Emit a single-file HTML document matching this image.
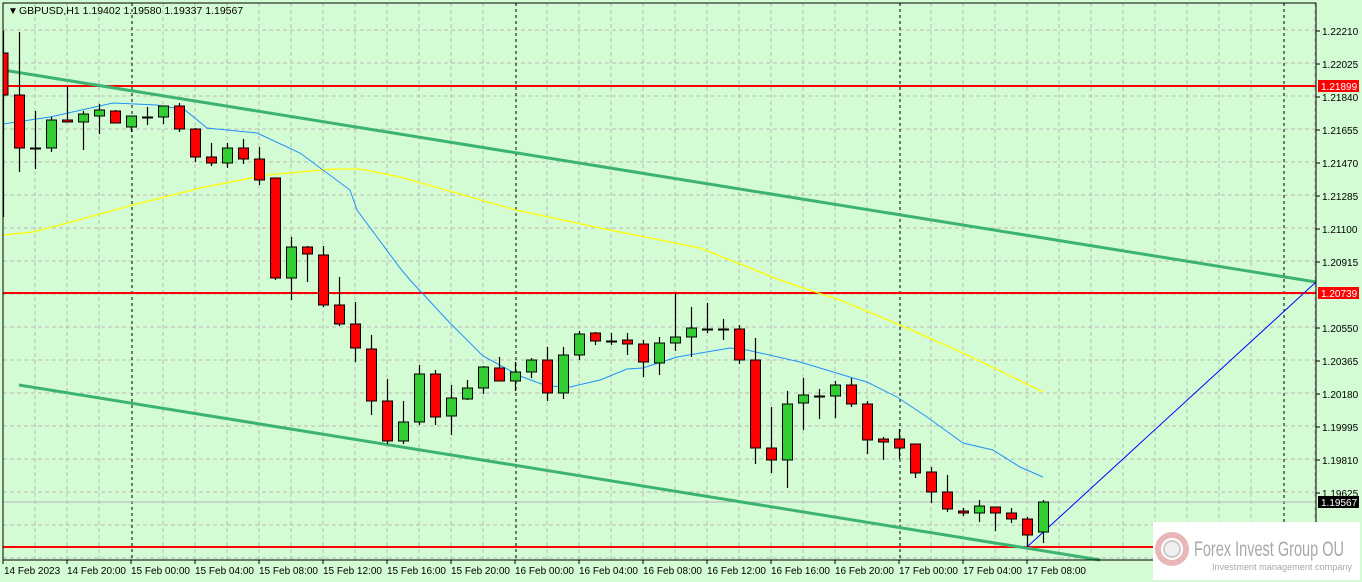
<!DOCTYPE html>
<html><head><meta charset="utf-8"><style>
html,body{margin:0;padding:0;background:#d4fcd4;}
svg{display:block;font-family:"Liberation Sans",sans-serif;}
</style></head><body>
<svg id="c" width="1362" height="582" xmlns="http://www.w3.org/2000/svg">
<rect x="0" y="0" width="1362" height="582" fill="#d4fcd4"/>
<g id="grid"></g>
<g id="lines"></g>
<g id="cand"></g>
<g id="top"></g>
<rect x="3" y="3" width="1313" height="557" fill="none" stroke="#000" stroke-width="1"/>
<text x="8" y="14" font-size="10" fill="#000">▼</text>
<text x="19" y="14" font-size="10.5" fill="#000">GBPUSD,H1  1.19402 1.19580 1.19337 1.19567</text>
<g id="axis"></g>
<g>
<rect x="1153" y="522" width="207" height="58" fill="#fff"/>
<circle cx="1172" cy="549" r="14" fill="none" stroke="#e8b8b8" stroke-width="6"/>
<circle cx="1172" cy="549" r="8" fill="#f0f0f0" stroke="#ccc" stroke-width="2"/>
<text x="1194" y="556" font-size="21" fill="#a8a8a8" textLength="150" lengthAdjust="spacingAndGlyphs">Forex Invest Group OU</text>
<text x="1212" y="570" font-size="9" fill="#a8a8a8" textLength="140" lengthAdjust="spacingAndGlyphs">Investment management company</text>
</g>
</svg>
<script>
const NS="http://www.w3.org/2000/svg";
function el(p,t,a,txt){const e=document.createElementNS(NS,t);for(const k in a)e.setAttribute(k,a[k]);if(txt!==undefined)e.textContent=txt;document.getElementById(p).appendChild(e);return e;}
// grid
for(let x=35;x<1316;x+=32){ if([131,515,899,1283].includes(x))continue; el("grid","line",{x1:x,y1:3,x2:x,y2:560,stroke:"#b8b8b8","stroke-dasharray":"4,3"});}
for(let y=30;y<560;y+=33){el("grid","line",{x1:3,y1:y,x2:1316,y2:y,stroke:"#b8b8b8","stroke-dasharray":"4,3"});}
[132,516,900,1284].forEach(x=>el("grid","line",{x1:x,y1:3,x2:x,y2:560,stroke:"#000","stroke-dasharray":"3,3"}));
// horizontal levels
el("lines","line",{x1:3,y1:502,x2:1316,y2:502,stroke:"#b8b8b8"});
[86,293,547].forEach(y=>el("lines","line",{x1:3,y1:y,x2:1316,y2:y,stroke:"#f00","stroke-width":2}));
// trend lines
el("lines","line",{x1:3,y1:70,x2:1316,y2:282,stroke:"#3cb371","stroke-width":3});
el("lines","line",{x1:19,y1:385,x2:1100,y2:560,stroke:"#3cb371","stroke-width":3});
el("lines","line",{x1:1027,y1:547,x2:1316,y2:282,stroke:"#0000ff","stroke-width":1});
// MAs
el("lines","polyline",{fill:"none",stroke:"#ffff00","stroke-width":1.3,points:"3,235 33,232 67,223 133,205 200,188 267,175 300,172 333,169 360,169 400,177 516,210 600,228 700,248 780,280 800,287 840,300 900,325 963,353 1043,392"});
el("lines","polyline",{fill:"none",stroke:"#1e90ff","stroke-width":1,points:"3,124 50,117 113,103 157,105 185,110 207,128 257,133 300,153 350,190 357,210 400,268 410,280 450,323 483,356 520,376 547,386 570,387 600,380 627,369 643,368 677,357 730,348 747,350 800,362 853,378 867,382 897,397 927,417 963,443 993,450 1020,467 1043,477"});
// candles: [top, bottom, high, low, type] r=red g=green d=doji
const C=[[53,95,31,217,'r'],[95,148,32,172,'r'],[148,148,111,169,'d'],[120,148,117,152,'g'],[120,122,86,122,'r'],[114,122,111,150,'g'],[110,116,104,134,'g'],[111,123,110,123,'r'],[116,127,116,132,'g'],[117,117,107,125,'d'],[106,117,106,124,'g'],[106,129,103,132,'r'],[129,157,128,162,'r'],[157,163,143,166,'r'],[148,163,143,168,'g'],[148,159,139,164,'r'],[159,180,147,185,'r'],
[178,278,178,280,'r'],[247,278,237,300,'g'],[247,254,246,282,'r'],[255,305,246,307,'r'],[305,324,277,326,'r'],[324,348,302,362,'r'],[349,401,335,415,'r'],[401,441,379,444,'r'],[422,441,401,444,'g'],[374,422,365,425,'g'],[374,417,370,425,'r'],[398,416,385,435,'g'],[388,399,380,400,'g'],[367,388,366,394,'g'],[368,381,357,381,'r'],[372,381,362,391,'g'],[360,372,358,378,'g'],[360,393,347,401,'r'],[355,393,347,399,'g'],[334,355,331,360,'g'],[333,341,332,345,'r'],[341,341,333,345,'d'],[340,344,333,355,'r'],[344,362,340,377,'r'],[343,363,337,375,'g'],[337,343,293,351,'g'],[328,337,307,357,'g'],[329,329,303,333,'d'],[329,329,319,340,'d'],[329,360,325,364,'r'],
[360,448,338,464,'r'],[448,460,407,473,'r'],[404,460,391,488,'g'],[395,403,378,430,'g'],[396,396,389,419,'d'],[385,396,381,418,'g'],[385,404,378,407,'r'],[404,440,401,454,'r'],[439,442,437,460,'r'],[439,448,429,459,'r'],[444,473,444,478,'r'],[472,492,467,503,'r'],[492,509,475,512,'r'],[511,513,508,516,'r'],[506,513,500,522,'g'],[507,513,507,531,'r'],[513,519,508,523,'r'],[519,535,517,547,'r'],[502,532,500,543,'g']];
C.forEach((c,i)=>{const x=3+16*i;
 el("cand","line",{x1:x+0.5,y1:c[2],x2:x+0.5,y2:c[3],stroke:"#000","stroke-width":1.2});
 if(c[4]=='d'){el("cand","line",{x1:x-5,y1:c[0]+0.5,x2:x+6,y2:c[0]+0.5,stroke:"#000","stroke-width":2});}
 else{const xl=i==0?3:x-4.5;el("cand","rect",{x:xl,y:c[0],width:i==0?5:10,height:Math.max(1,c[1]-c[0]),fill:c[4]=='r'?"#ff0000":"#32cd32",stroke:"#000","stroke-width":1});}
});
// right axis
const labs=["1.22210","1.22025","1.21840","1.21655","1.21470","1.21285","1.21100","1.20915","1.20730","1.20550","1.20365","1.20180","1.19995","1.19810","1.19625","1.19440"];
labs.forEach((l,k)=>{const y=31+33*k; if(k==8)return; el("axis","line",{x1:1316,y1:y,x2:1320,y2:y,stroke:"#000"}); el("axis","text",{x:1322,y:y+4,"font-size":10,fill:"#000"},l);});
[[86,"1.21899","#f00"],[293,"1.20739","#f00"],[502,"1.19567","#000"]].forEach(a=>{el("axis","rect",{x:1318,y:a[0]-6,width:41,height:12,fill:a[2]});el("axis","text",{x:1321,y:a[0]+4,"font-size":10,fill:"#fff"},a[1]);});
// time axis
const T=["14 Feb 2023","14 Feb 20:00","15 Feb 00:00","15 Feb 04:00","15 Feb 08:00","15 Feb 12:00","15 Feb 16:00","15 Feb 20:00","16 Feb 00:00","16 Feb 04:00","16 Feb 08:00","16 Feb 12:00","16 Feb 16:00","16 Feb 20:00","17 Feb 00:00","17 Feb 04:00","17 Feb 08:00"];
T.forEach((t,k)=>{const x=3+64*k; el("axis","line",{x1:x,y1:560,x2:x,y2:564,stroke:"#000"}); el("axis","text",{x:x+(k==0?1:0),y:574,"font-size":10,fill:"#000"},t);});
</script>
</body></html>
